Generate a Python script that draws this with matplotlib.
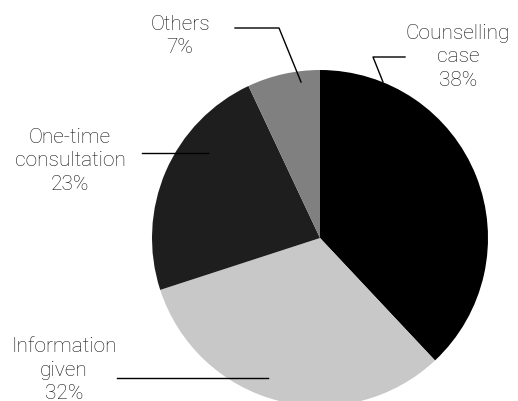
import matplotlib
matplotlib.use('Agg')
import matplotlib.pyplot as plt

labels = ['Counselling\ncase', 'Information\ngiven', 'One-time\nconsultation', 'Others']
shares = [38, 32, 23, 7]
colors = ['#000000', '#c8c8c8', '#1e1e1e', '#808080']

W, H = 518, 401

fig = plt.figure(figsize=(W / 100, H / 100), dpi=100)
ax = fig.add_axes([0, 0, 1, 1])

# pie in pixel-like coordinates (y up)
cx, cy, r = 320, H - 238, 168
ax.pie(shares, colors=colors, startangle=90, counterclock=False,
       center=(cx, cy), radius=r, frame=True,
       wedgeprops=dict(linewidth=0))
ax.set_xlim(0, W)
ax.set_ylim(0, H)
ax.set_aspect('equal')
ax.axis('off')

font = dict(family=['Roboto', 'DejaVu Sans'], weight='light', size=15,
            color='#111111', ha='center', va='center', linespacing=1.3)

# label text positions and leader lines (x, y in pixels from the top)
label_pos = [(458, 57), (64, 370), (70, 161), (180, 36)]
leaders = [
    [(405, 57), (373, 57), (383, 82)],
    [(117, 378), (268, 378)],
    [(142, 153), (208, 153)],
    [(235, 28), (279, 28), (301, 82)],
]

for lab, val, (tx, ty), pts in zip(labels, shares, label_pos, leaders):
    ax.text(tx, H - ty, f'{lab}\n{val}%', **font)
    xs = [p[0] for p in pts]
    ys = [H - p[1] for p in pts]
    ax.plot(xs, ys, color='black', linewidth=1)

fig.savefig('out.png', dpi=100)
